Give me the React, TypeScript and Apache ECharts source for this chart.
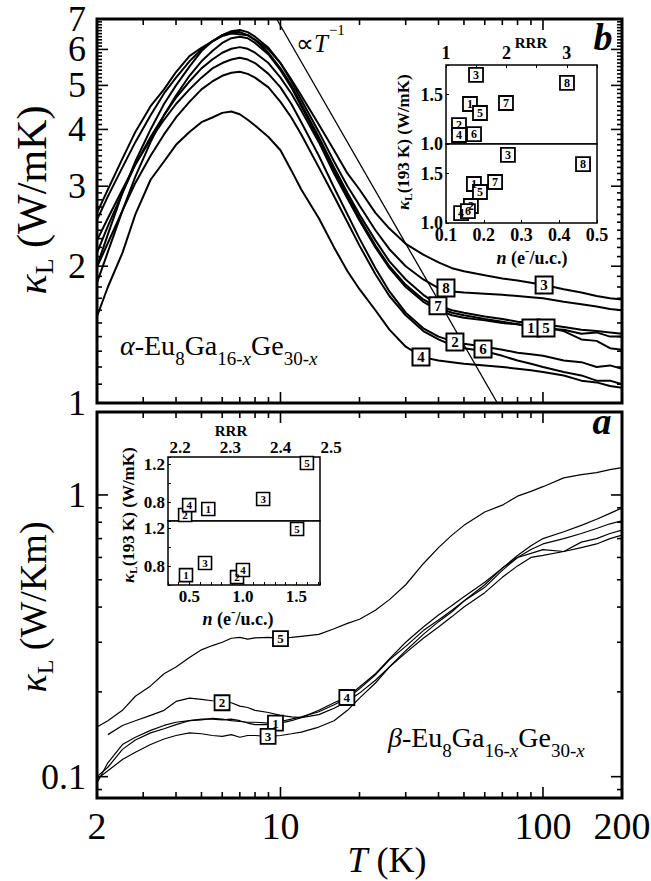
import React, { useEffect, useRef } from 'react';
import * as echarts from 'echarts';

const SERIF = 'Liberation Serif';

// ---------- main panels: temperature grid (K) ----------
const T_GRID = [2, 2.2, 2.5, 2.8, 3.2, 3.6, 4, 4.5, 5, 5.5, 6, 6.5, 7, 7.5, 8, 9, 10, 11, 12, 14, 16, 18, 20, 23, 26, 30, 35, 40, 45, 50, 60, 70, 80, 90, 100, 120, 140, 160, 180, 200];

// alpha-Eu8Ga16-xGe30-x, kappa_L (W/mK), samples 1..8
const ALPHA_1 = [1.84, 2.15, 2.65, 3.15, 3.75, 4.3, 4.75, 5.25, 5.65, 5.95, 6.2, 6.35, 6.4, 6.35, 6.2, 5.85, 5.4, 4.95, 4.5, 3.8, 3.25, 2.85, 2.55, 2.22, 2.0, 1.82, 1.69, 1.62, 1.58, 1.56, 1.53, 1.51, 1.49, 1.47, 1.46, 1.45, 1.42, 1.43, 1.40, 1.40];
const ALPHA_2 = [2.28, 2.55, 2.95, 3.35, 3.8, 4.2, 4.55, 4.9, 5.2, 5.45, 5.6, 5.7, 5.75, 5.7, 5.6, 5.3, 4.95, 4.55, 4.15, 3.5, 2.98, 2.6, 2.3, 1.98, 1.76, 1.58, 1.46, 1.40, 1.37, 1.35, 1.33, 1.31, 1.29, 1.28, 1.27, 1.24, 1.23, 1.20, 1.21, 1.19];
const ALPHA_3 = [2.62, 2.95, 3.45, 3.95, 4.5, 4.9, 5.35, 5.8, 6.05, 6.25, 6.42, 6.5, 6.48, 6.45, 6.3, 6.0, 5.6, 5.15, 4.75, 4.1, 3.6, 3.2, 2.95, 2.62, 2.42, 2.24, 2.12, 2.04, 1.98, 1.95, 1.91, 1.88, 1.86, 1.84, 1.82, 1.78, 1.75, 1.72, 1.70, 1.69];
const ALPHA_4 = [1.55, 1.8, 2.14, 2.6, 3.1, 3.4, 3.7, 3.95, 4.15, 4.25, 4.35, 4.38, 4.32, 4.2, 4.08, 3.85, 3.6, 3.25, 2.95, 2.55, 2.2, 1.95, 1.78, 1.6, 1.45, 1.33, 1.26, 1.24, 1.23, 1.22, 1.21, 1.20, 1.19, 1.18, 1.17, 1.15, 1.12, 1.11, 1.09, 1.08];
const ALPHA_5 = [2.14, 2.45, 2.9, 3.35, 3.85, 4.3, 4.7, 5.1, 5.45, 5.7, 5.9, 6.02, 6.07, 6.02, 5.9, 5.6, 5.2, 4.8, 4.4, 3.75, 3.2, 2.82, 2.52, 2.2, 1.98, 1.8, 1.67, 1.6, 1.56, 1.54, 1.52, 1.5, 1.49, 1.48, 1.47, 1.44, 1.38, 1.37, 1.32, 1.31];
const ALPHA_6 = [1.99, 2.25, 2.65, 3.05, 3.5, 3.9, 4.25, 4.6, 4.9, 5.1, 5.25, 5.33, 5.36, 5.3, 5.2, 4.95, 4.6, 4.25, 3.9, 3.3, 2.85, 2.5, 2.22, 1.92, 1.72, 1.56, 1.44, 1.38, 1.34, 1.32, 1.30, 1.27, 1.24, 1.22, 1.20, 1.17, 1.15, 1.12, 1.12, 1.10];
const ALPHA_7 = [2.53, 2.85, 3.3, 3.75, 4.3, 4.8, 5.2, 5.65, 6.0, 6.25, 6.45, 6.55, 6.55, 6.45, 6.3, 5.9, 5.45, 5.0, 4.55, 3.85, 3.3, 2.9, 2.6, 2.28, 2.05, 1.87, 1.73, 1.64, 1.60, 1.58, 1.55, 1.53, 1.51, 1.50, 1.49, 1.47, 1.45, 1.44, 1.43, 1.42];
const ALPHA_8 = [2.0, 2.35, 2.9, 3.4, 4.0, 4.55, 5.0, 5.5, 5.95, 6.25, 6.45, 6.58, 6.62, 6.55, 6.4, 6.05, 5.6, 5.1, 4.65, 3.95, 3.4, 3.0, 2.72, 2.4, 2.18, 2.0, 1.87, 1.79, 1.76, 1.75, 1.74, 1.73, 1.72, 1.71, 1.70, 1.67, 1.65, 1.63, 1.61, 1.60];
const ALPHA_CURVES = [ALPHA_1, ALPHA_2, ALPHA_3, ALPHA_4, ALPHA_5, ALPHA_6, ALPHA_7, ALPHA_8];

// sample-number boxes on the alpha curves
const ALPHA_LABEL_IDS = ['7', '8', '3', '1', '5', '2', '6', '4'];
const ALPHA_LABEL_T = [39.8, 42.7, 101, 90, 102.7, 46.2, 59.1, 34.3];
const ALPHA_LABEL_K = [1.636, 1.792, 1.819, 1.463, 1.463, 1.363, 1.315, 1.263];

// proportional-to-1/T guide line (two end points)
const POWER_T = [9.67, 67];
const POWER_K = [7, 1];

// beta-Eu8Ga16-xGe30-x, kappa_L (W/Km), samples 1..5
const BETA_1 = [0.100, 0.108, 0.125, 0.135, 0.143, 0.148, 0.153, 0.158, 0.16, 0.16, 0.159, 0.16, 0.158, 0.155, 0.153, 0.153, 0.157, 0.16, 0.163, 0.17, 0.18, 0.19, 0.205, 0.23, 0.26, 0.29, 0.33, 0.36, 0.39, 0.42, 0.47, 0.54, 0.6, 0.62, 0.64, 0.63, 0.68, 0.70, 0.73, 0.75];
const BETA_2 = [null, 0.141, 0.152, 0.158, 0.165, 0.172, 0.185, 0.19, 0.188, 0.186, 0.185, 0.183, 0.178, 0.176, 0.172, 0.169, 0.165, 0.163, 0.162, 0.166, 0.175, 0.185, 0.198, 0.22, 0.245, 0.275, 0.31, 0.34, 0.37, 0.40, 0.45, 0.51, 0.56, 0.6, 0.61, 0.63, 0.65, 0.67, 0.70, 0.72];
const BETA_3 = [0.098, 0.105, 0.115, 0.122, 0.13, 0.136, 0.14, 0.143, 0.142, 0.14, 0.139, 0.141, 0.138, 0.14, 0.14, 0.139, 0.14, 0.142, 0.144, 0.15, 0.158, 0.172, 0.19, 0.215, 0.245, 0.28, 0.32, 0.355, 0.385, 0.42, 0.48, 0.55, 0.61, 0.66, 0.7, 0.74, 0.78, 0.82, 0.86, 0.90];
const BETA_4 = [0.095, 0.112, 0.13, 0.138, 0.146, 0.152, 0.156, 0.158, 0.159, 0.161, 0.16, 0.158, 0.157, 0.156, 0.156, 0.155, 0.155, 0.158, 0.162, 0.172, 0.183, 0.192, 0.208, 0.232, 0.262, 0.3, 0.34, 0.375, 0.405, 0.435, 0.49, 0.55, 0.6, 0.64, 0.67, 0.7, 0.73, 0.76, 0.79, 0.81];
const BETA_5 = [0.150, 0.158, 0.172, 0.193, 0.21, 0.232, 0.245, 0.265, 0.282, 0.292, 0.30, 0.31, 0.312, 0.308, 0.311, 0.312, 0.31, 0.312, 0.315, 0.32, 0.335, 0.35, 0.362, 0.39, 0.425, 0.48, 0.57, 0.65, 0.72, 0.78, 0.87, 0.92, 0.99, 1.03, 1.07, 1.15, 1.18, 1.20, 1.23, 1.25];
const BETA_CURVES = [BETA_1, BETA_2, BETA_3, BETA_4, BETA_5];

const BETA_LABEL_IDS = ['5', '2', '1', '3', '4'];
const BETA_LABEL_T = [10.0, 5.99, 9.57, 8.97, 17.9];
const BETA_LABEL_K = [0.309, 0.183, 0.155, 0.139, 0.191];

// ---------- inset of panel b ----------
const INB_RRR_IDS = ['2', '4', '6', '1', '5', '3', '7', '8'];
const INB_RRR = [1.215, 1.215, 1.464, 1.397, 1.563, 1.497, 1.993, 3.003];
const INB_RRR_K = [1.192, 1.091, 1.101, 1.405, 1.314, 1.699, 1.415, 1.618];
const INB_N_IDS = ['4', '2', '6', '1', '5', '7', '3', '8'];
const INB_N = [0.140, 0.166, 0.158, 0.174, 0.190, 0.230, 0.264, 0.463];
const INB_N_K = [1.101, 1.172, 1.121, 1.395, 1.314, 1.415, 1.689, 1.597];

// ---------- inset of panel a ----------
const INA_RRR_IDS = ['2', '4', '1', '3', '5'];
const INA_RRR = [2.210, 2.218, 2.256, 2.365, 2.452];
const INA_RRR_K = [0.663, 0.769, 0.727, 0.833, 1.216];
const INA_N_IDS = ['2', '4', '1', '3', '5'];
const INA_N = [0.945, 1.0, 0.468, 0.646, 1.506];
const INA_N_K = [0.684, 0.759, 0.705, 0.833, 1.195];
const INA_RRR_TICKS = [2.2, 2.3, 2.4, 2.5];

// ---------- axis ticks / labels of main panels ----------
const X_LABELS = [2, 10, 100, 200];
const X_MAJOR = [10, 100];
const X_MINOR = [3, 4, 5, 6, 7, 8, 9, 20, 30, 40, 50, 60, 70, 80, 90];
const ALPHA_Y_LABELS = [1, 2, 3, 4, 5, 6, 7];
const ALPHA_Y_MAJOR = [2, 3, 4, 5, 6];
const ALPHA_Y_MINOR: number[] = [];
for (let i = 11; i < 70; i++) if (i % 10 !== 0) ALPHA_Y_MINOR.push(i / 10);
const BETA_Y_LABELS = [0.1, 1];
const BETA_Y_MAJOR = [0.1, 1];
const BETA_Y_MINOR = [0.09, 0.2, 0.3, 0.4, 0.5, 0.6, 0.7, 0.8, 0.9];

const near = (a: number, b: number) => Math.abs(a - b) < 1e-6;

function buildOption() {
  const pairs = (xs: number[], ys: (number | null)[]) =>
    xs.map((x, i) => [x, ys[i]]).filter((p) => p[1] != null);
  const boxes = (ids: string[], xs: number[], ys: number[]) =>
    ids.map((id, i) => ({ name: id, value: [xs[i], ys[i]] }));

  const lineSeries = (xi: number, yi: number, data: any[], width: number) => ({
    type: 'line', xAxisIndex: xi, yAxisIndex: yi, data, showSymbol: false, symbol: 'none',
    silent: true, lineStyle: { color: '#000', width }, z: 3,
  });
  const boxSeries = (xi: number, yi: number, data: any[], size: number, font: number, bw: number) => ({
    type: 'scatter', xAxisIndex: xi, yAxisIndex: yi, data, symbol: 'rect', symbolSize: size, silent: true,
    itemStyle: { color: '#fff', borderColor: '#000', borderWidth: bw, opacity: 1 },
    label: { show: true, position: 'inside', formatter: '{b}', color: '#000', fontFamily: SERIF, fontWeight: 'bold', fontSize: font },
    z: 10,
  });

  const tickRender = (params: any, api: any) => {
    const cs = params.coordSys;
    const p = api.coord([api.value(0), api.value(1)]);
    const len = api.value(2);
    const kind = api.value(3);
    const st = { stroke: '#000', lineWidth: 1.6 };
    if (kind === 0) {
      const yb = cs.y + cs.height;
      const yt = cs.y;
      return {
        type: 'group', children: [
          { type: 'line', shape: { x1: p[0], y1: yb, x2: p[0], y2: yb - len }, style: st },
          { type: 'line', shape: { x1: p[0], y1: yt, x2: p[0], y2: yt + len }, style: st },
        ],
      };
    }
    const xl = cs.x;
    const xr = cs.x + cs.width;
    return {
      type: 'group', children: [
        { type: 'line', shape: { x1: xl, y1: p[1], x2: xl + len, y2: p[1] }, style: st },
        { type: 'line', shape: { x1: xr, y1: p[1], x2: xr - len, y2: p[1] }, style: st },
      ],
    };
  };
  const tickSeries = (gi: number, xMin: number, yMin: number, yMajor: number[], yMinor: number[]) => ({
    type: 'custom', xAxisIndex: gi, yAxisIndex: gi, silent: true, z: 6, encode: { x: 0, y: 1 },
    data: [
      ...X_MAJOR.map((t) => [t, yMin, 11, 0]),
      ...X_MINOR.map((t) => [t, yMin, 6, 0]),
      ...yMajor.map((k) => [xMin, k, 11, 1]),
      ...yMinor.map((k) => [xMin, k, 5, 1]),
    ],
    renderItem: tickRender,
  });

  const txtStyle = (text: string, size: number, align: string, valign: string, extra: any = {}) => ({
    text, fontFamily: SERIF, fontSize: size, fill: '#000', align, verticalAlign: valign, ...extra,
  });

  const xLabelSeries = {
    type: 'custom', xAxisIndex: 1, yAxisIndex: 1, silent: true, z: 6, encode: { x: 0, y: 1 },
    data: X_LABELS.map((t) => [t, 1]),
    renderItem: (params: any, api: any) => {
      const cs = params.coordSys;
      const v = api.value(0);
      const p = api.coord([v, api.value(1)]);
      return { type: 'text', x: p[0], y: cs.y + cs.height + 28, style: txtStyle(String(v), 38, 'center', 'middle') };
    },
  };
  const yLabelSeries = (gi: number, xMin: number, vals: number[]) => ({
    type: 'custom', xAxisIndex: gi, yAxisIndex: gi, silent: true, z: 6, encode: { x: 0, y: 1 },
    data: vals.map((k) => [xMin, k]),
    renderItem: (params: any, api: any) => {
      const cs = params.coordSys;
      const v = api.value(1);
      const p = api.coord([api.value(0), v]);
      return { type: 'text', x: cs.x - 11, y: p[1], style: txtStyle(String(v), 36, 'right', 'middle', { lineHeight: 28 }) };
    },
  });
  const inaRRRLabels = {
    type: 'custom', xAxisIndex: 4, yAxisIndex: 4, silent: true, z: 6, encode: { x: 0, y: 1 },
    data: INA_RRR_TICKS.map((r) => [r, 1.28]),
    renderItem: (params: any, api: any) => {
      const cs = params.coordSys;
      const v = api.value(0);
      const p = api.coord([v, api.value(1)]);
      return { type: 'text', x: p[0], y: cs.y - 10, style: txtStyle(v.toFixed(1), 17, 'center', 'middle', { fontWeight: 'bold' }) };
    },
  };

  const insetLabel = (size: number, formatter: (v: number) => string) => ({
    color: '#000', fontFamily: SERIF, fontWeight: 'bold', fontSize: size, margin: 3, formatter,
  });
  const insetTick = { show: true, inside: true, length: 3, lineStyle: { color: '#000', width: 1 } };
  const insetAxis = (gi: number, o: any) => ({
    type: 'value', gridIndex: gi, axisLine: { show: false }, splitLine: { show: false }, axisTick: insetTick, ...o,
  });

  const fmtInt = (v: number) => (near(v, Math.round(v)) ? String(Math.round(v)) : '');
  const fmtHalf = (v: number) => (near(v, 1) || near(v, 1.5) ? v.toFixed(1) : '');
  const fmtTenth = (v: number) => v.toFixed(1);
  const fmtA_K = (v: number) => (near(v, 0.8) || near(v, 1.2) ? v.toFixed(1) : '');
  const fmtA_N = (v: number) => (near(v, 0.5) || near(v, 1.0) || near(v, 1.5) ? v.toFixed(1) : '');

  const R = (size: number, o: any = {}) => ({ fontFamily: SERIF, fontSize: size, fill: '#000', verticalAlign: 'top', ...o });

  const richText = (x: number, y: number, text: string, rich: any, align: string, valign: string, rotation = 0) => ({
    type: 'text', x, y, rotation, z: 20,
    style: { text, fontFamily: SERIF, fontSize: 20, fill: '#000', rich, align, verticalAlign: valign },
  });
  const kappaTitle = (x: number, y: number, unit: string, size: number) =>
    richText(x, y, `{k|κ}{s|L}{r| ${unit}}`, {
      k: R(size, { fontStyle: 'italic' }),
      s: R(Math.round(size * 0.62), { padding: [Math.round(size * 0.5), 0, 0, 0] }),
      r: R(size),
    }, 'center', 'middle', Math.PI / 2);
  const insetTitle = (x: number, y: number) =>
    richText(x, y, '{k|κ}{s|L}{r|(193 K) (W/mK)}', {
      k: R(17, { fontStyle: 'italic', fontWeight: 'bold' }),
      s: R(11, { fontWeight: 'bold', padding: [8, 0, 0, 0] }),
      r: R(17, { fontWeight: 'bold' }),
    }, 'center', 'middle', Math.PI / 2);
  const nTitle = (x: number, y: number) =>
    richText(x, y, '{n|n}{r| (e}{p|-}{r|/u.c.)}', {
      n: R(18, { fontStyle: 'italic', fontWeight: 'bold', padding: [5, 0, 0, 0] }),
      r: R(18, { fontWeight: 'bold', padding: [5, 0, 0, 0] }),
      p: R(13, { fontWeight: 'bold' }),
    }, 'center', 'middle');
  const compound = (x: number, y: number, greek: string) =>
    richText(x, y, `{g|${greek}}{m|-Eu}{s|8}{m|Ga}{s|16-}{si|x}{m|Ge}{s|30-}{si|x}`, {
      g: R(28, { fontStyle: 'italic' }),
      m: R(28),
      s: R(19, { padding: [18, 0, 0, 0] }),
      si: R(19, { fontStyle: 'italic', padding: [18, 0, 0, 0] }),
    }, 'left', 'top');
  const plain = (x: number, y: number, text: string, size: number, o: any = {}) => ({
    type: 'text', x, y, z: 20,
    style: { ...txtStyle(text, size, 'center', 'middle'), ...o },
  });

  const mainGrid = { show: true, borderColor: '#000', borderWidth: 3, backgroundColor: 'transparent' };
  const insetGrid = { show: true, borderColor: '#000', borderWidth: 1.5, backgroundColor: '#fff' };

  return {
    animation: false,
    backgroundColor: '#fff',
    grid: [
      { left: 97, top: 19, width: 525, height: 384, ...mainGrid },
      { left: 97, top: 412, width: 525, height: 386, ...mainGrid },
      { left: 446, top: 65, width: 151, height: 79, ...insetGrid },
      { left: 446, top: 144, width: 151, height: 79, ...insetGrid },
      { left: 168, top: 457, width: 152, height: 64, ...insetGrid },
      { left: 168, top: 521, width: 152, height: 64, ...insetGrid },
    ],
    xAxis: [
      { type: 'log', logBase: 10, gridIndex: 0, min: 2, max: 200, show: false },
      { type: 'log', logBase: 10, gridIndex: 1, min: 2, max: 200, show: false },
      insetAxis(2, { position: 'top', min: 1, max: 3.5, interval: 0.5, axisLabel: insetLabel(18, fmtInt) }),
      insetAxis(3, { position: 'bottom', min: 0.1, max: 0.5, interval: 0.1, axisLabel: insetLabel(18, fmtTenth) }),
      insetAxis(4, { position: 'top', min: 2.176, max: 2.478, axisLabel: { show: false }, axisTick: { show: false } }),
      insetAxis(5, { position: 'bottom', min: 0.3, max: 1.72, interval: 0.1, axisLabel: insetLabel(17, fmtA_N) }),
    ],
    yAxis: [
      { type: 'log', logBase: 10, gridIndex: 0, min: 1, max: 7, show: false },
      { type: 'log', logBase: 10, gridIndex: 1, min: 0.084, max: 1.97, show: false },
      insetAxis(2, { min: 1.0, max: 1.8, interval: 0.5, axisLabel: insetLabel(18, fmtHalf) }),
      insetAxis(3, { min: 1.0, max: 1.8, interval: 0.5, axisLabel: insetLabel(18, fmtHalf) }),
      insetAxis(4, { min: 0.6, max: 1.28, interval: 0.2, axisLabel: insetLabel(17, fmtA_K) }),
      insetAxis(5, { min: 0.6, max: 1.28, interval: 0.2, axisLabel: insetLabel(17, fmtA_K) }),
    ],
    series: [
      ...ALPHA_CURVES.map((c) => lineSeries(0, 0, pairs(T_GRID, c), 2)),
      lineSeries(0, 0, pairs(POWER_T, POWER_K), 1.3),
      boxSeries(0, 0, boxes(ALPHA_LABEL_IDS, ALPHA_LABEL_T, ALPHA_LABEL_K), 17, 15, 2),
      ...BETA_CURVES.map((c) => lineSeries(1, 1, pairs(T_GRID, c), 1.2)),
      boxSeries(1, 1, boxes(BETA_LABEL_IDS, BETA_LABEL_T, BETA_LABEL_K), 15, 13, 1.8),
      boxSeries(2, 2, boxes(INB_RRR_IDS, INB_RRR, INB_RRR_K), 14, 12, 1.8),
      boxSeries(3, 3, boxes(INB_N_IDS, INB_N, INB_N_K), 14, 12, 1.8),
      boxSeries(4, 4, boxes(INA_RRR_IDS, INA_RRR, INA_RRR_K), 13, 11, 1.6),
      boxSeries(5, 5, boxes(INA_N_IDS, INA_N, INA_N_K), 13, 11, 1.6),
      tickSeries(0, 2, 1, ALPHA_Y_MAJOR, ALPHA_Y_MINOR),
      tickSeries(1, 2, 0.1, BETA_Y_MAJOR, BETA_Y_MINOR),
      xLabelSeries,
      yLabelSeries(0, 2, ALPHA_Y_LABELS),
      yLabelSeries(1, 2, BETA_Y_LABELS),
      inaRRRLabels,
    ],
    graphic: [
      kappaTitle(34, 200, '(W/mK)', 42),
      kappaTitle(35, 607, '(W/Km)', 38),
      richText(387, 860, '{t|T}{r| (K)}', { t: R(36, { fontStyle: 'italic' }), r: R(36) }, 'center', 'middle'),
      compound(120, 331, 'α'),
      compound(388, 723, 'β'),
      richText(296, 22, '{m|∝}{t|T}{s|−1}', {
        m: R(25, { padding: [9, 0, 0, 0] }),
        t: R(25, { fontStyle: 'italic', padding: [9, 0, 0, 0] }),
        s: R(15, { padding: [0, 0, 0, 1] }),
      }, 'left', 'top'),
      plain(603, 37, 'b', 38, { fontStyle: 'italic', fontWeight: 'bold' }),
      plain(602, 421, 'a', 38, { fontStyle: 'italic', fontWeight: 'bold' }),
      plain(531, 43, 'RRR', 15, { fontWeight: 'bold' }),
      plain(231, 431, 'RRR', 15, { fontWeight: 'bold' }),
      insetTitle(404, 142),
      insetTitle(129, 515),
      nTitle(532, 255),
      nTitle(238, 616),
    ],
  };
}

export default function App() {
  const ref = useRef<HTMLDivElement>(null);
  useEffect(() => {
    if (!ref.current) return;
    const chart = echarts.init(ref.current, undefined, { renderer: 'svg' });
    chart.setOption(buildOption() as any);
    return () => chart.dispose();
  }, []);
  return (
    <div
      ref={ref}
      style={{ position: 'fixed', left: 0, top: 0, width: 651, height: 881, background: '#fff' }}
    />
  );
}
